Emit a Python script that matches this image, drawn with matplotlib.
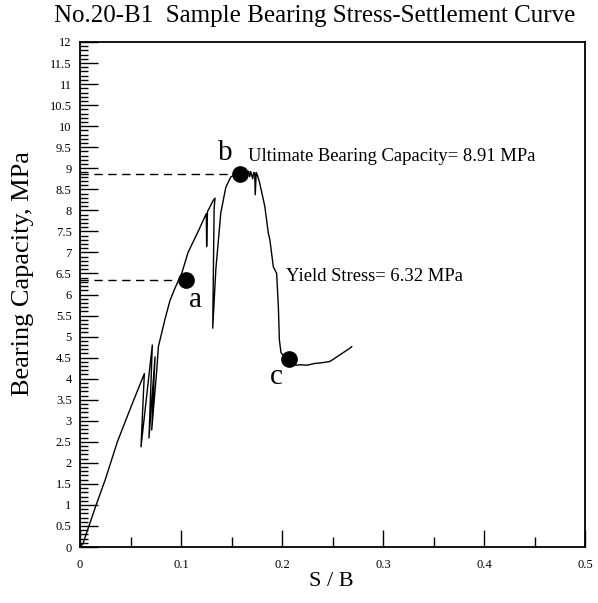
import numpy as np
import matplotlib
matplotlib.use('Agg')
import matplotlib.pyplot as plt
from matplotlib.ticker import MultipleLocator

plt.rcParams['font.family'] = ['Liberation Serif', 'DejaVu Serif']

# settlement ratio S/B and bearing stress (MPa)
s_b = [0.000, 0.003, 0.006, 0.016, 0.025, 0.037, 0.050, 0.0637, 0.0604, 0.0716,
       0.0683, 0.0743, 0.0710, 0.0760, 0.0776, 0.0800, 0.0840, 0.0890, 0.0940, 0.1007,
       0.1070, 0.1170, 0.1250, 0.1254, 0.1262, 0.1290, 0.1320, 0.1337, 0.1328, 0.1314,
       0.1345, 0.1394, 0.1444, 0.1492, 0.1530, 0.1584, 0.1620, 0.1650, 0.1670, 0.1680,
       0.1690, 0.1710, 0.1720, 0.1730, 0.1735, 0.1745, 0.1756, 0.1780, 0.1830, 0.1865,
       0.1880, 0.1914, 0.1947, 0.1964, 0.1974, 0.1990, 0.2030, 0.2070, 0.2100, 0.2140,
       0.2180, 0.2250, 0.2320, 0.2400, 0.2475, 0.2520, 0.2570, 0.2620, 0.2670, 0.2690]
stress = [0.00, 0.08, 0.30, 1.00, 1.60, 2.50, 3.30, 4.12, 2.38, 4.80,
          2.59, 4.52, 2.78, 4.20, 4.76, 5.00, 5.40, 5.85, 6.15, 6.50,
          7.00, 7.50, 7.92, 7.14, 7.97, 8.10, 8.24, 8.29, 8.05, 5.20,
          6.60, 7.94, 8.55, 8.79, 8.84, 8.88, 8.90, 8.88, 8.93, 8.80,
          8.92, 8.75, 8.90, 8.87, 8.37, 8.90, 8.84, 8.64, 8.09, 7.45,
          7.30, 6.66, 6.50, 5.71, 4.92, 4.62, 4.50, 4.44, 4.36, 4.32,
          4.33, 4.32, 4.36, 4.38, 4.41, 4.48, 4.56, 4.64, 4.72, 4.76]

# marked points a (yield), b (ultimate), c (residual)
point_names = ['a', 'b', 'c']
point_x = [0.105, 0.1584, 0.2072]
point_y = [6.35, 8.87, 4.47]

fig = plt.figure(figsize=(5.98, 6.03), dpi=100)
ax = fig.add_axes([80 / 598, 1 - 547 / 603, 505 / 598, 505 / 603])

ax.plot(s_b, stress, color='black', lw=1.0)

# dashed guide lines for yield and ultimate
for i in [0, 1]:
    ax.plot([0, point_x[i]], [point_y[i], point_y[i]], color='black',
            lw=1.0, dashes=(6, 4))

ax.plot(point_x, point_y, 'o', color='black', ms=11)

offsets = [(6.5, -14.5), (-10.5, 15), (-9.5, -13)]
for name, x, y, off in zip(point_names, point_x, point_y, offsets):
    ax.annotate(name, (x, y), xytext=off, textcoords='offset points',
                ha='center', va='center', fontsize=21)

ax.annotate('Ultimate Bearing Capacity= 8.91 MPa', (point_x[1], point_y[1]),
            xytext=(6, 12.5), textcoords='offset points', ha='left',
            va='center', fontsize=13.4)
ax.annotate('Yield Stress= 6.32 MPa', (point_x[0], point_y[0]),
            xytext=(72, 2), textcoords='offset points', ha='left',
            va='center', fontsize=13.4)

ax.set_xlim(0, 0.5)
ax.set_ylim(0, 12)
ax.xaxis.set_major_locator(MultipleLocator(0.1))
ax.xaxis.set_minor_locator(MultipleLocator(0.05))
ax.yaxis.set_major_locator(MultipleLocator(0.5))
ax.yaxis.set_minor_locator(MultipleLocator(0.1))
ax.xaxis.set_major_formatter(plt.FuncFormatter(lambda v, p: '%g' % round(v, 2)))
ax.yaxis.set_major_formatter(plt.FuncFormatter(lambda v, p: '%g' % round(v, 2)))

ax.tick_params(axis='both', which='both', direction='in', width=1.0,
               top=False, right=False, labelsize=9)
ax.tick_params(axis='y', which='major', length=13, pad=6)
ax.tick_params(axis='y', which='minor', length=6)
ax.tick_params(axis='x', which='major', length=12.5, pad=9)
ax.tick_params(axis='x', which='minor', length=7)
for sp in ax.spines.values():
    sp.set_linewidth(1.3)

fig.text(331 / 598, 1 - 581 / 603, 'S / B', ha='center', va='center', fontsize=16)
fig.text(23 / 598, 1 - 274 / 603, 'Bearing Capacity, MPa', rotation=90,
         ha='center', va='center', fontsize=19)
fig.text(315 / 598, 1 - 16 / 603, 'No.20-B1  Sample Bearing Stress-Settlement Curve',
         ha='center', va='center', fontsize=18)

fig.savefig('out.png', dpi=100)
